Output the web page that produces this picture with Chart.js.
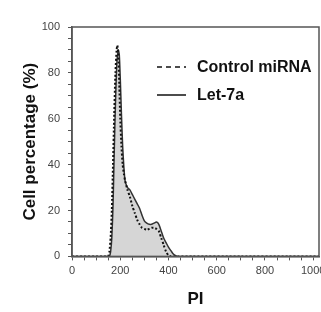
<!DOCTYPE html>
<html>
<head>
<meta charset="utf-8">
<script src="https://cdn.jsdelivr.net/npm/chart.js@4/dist/chart.umd.min.js"></script>
<style>
  html, body { margin: 0; padding: 0; background: #fff; overflow: hidden; }
  #wrap { width: 340px; height: 312px; }
</style>
</head>
<body>
<div id="wrap"><canvas id="piChart" width="340" height="312"></canvas></div>
<script>
// PI channel values (x) and cell percentage for each curve
const piValues = [0, 50, 100, 140, 150, 155, 160, 165, 170, 175, 180, 185, 188, 192, 196, 200, 205, 210, 215, 220, 230, 240, 250, 260, 270, 280, 290, 300, 310, 320, 330, 340, 350, 360, 370, 380, 390, 400, 410, 420, 430, 440, 500, 700, 900, 1024];
const controlValues = [0, 0, 0, 0, 0, 2, 8, 20, 40, 62, 80, 90, 92, 88, 75, 60, 48, 40, 36, 33, 29, 26, 22, 19, 16, 14, 12.5, 12, 11.5, 12, 12.5, 12.5, 12, 11, 8, 5, 2, 0.5, 0, 0, 0, 0, 0, 0, 0, 0];
const let7aValues = [0, 0, 0, 0, 0, 0, 2, 8, 22, 45, 66, 82, 87, 90, 88, 78, 62, 48, 39, 33, 30, 29, 27, 25, 23, 21, 18, 15.5, 14.5, 14, 14, 14.5, 15, 14, 11, 8, 6, 4, 2.5, 1, 0.3, 0, 0, 0, 0, 0];

const legendLabels = ["Control miRNA", "Let-7a"];

// legend inside plot + frame box
const boxPlugin = {
  id: "boxPlugin",
  afterDraw(chart) {
    const ctx = chart.ctx;
    const a = chart.chartArea;
    ctx.save();
    ctx.strokeStyle = "#555";
    ctx.lineWidth = 1.5;
    ctx.strokeRect(a.left, a.top, a.right - a.left, a.bottom - a.top);

    ctx.fillStyle = "#111";
    ctx.font = "bold 16px Arial, 'Liberation Sans', sans-serif";
    ctx.textBaseline = "middle";
    ctx.strokeStyle = "#111";
    ctx.lineWidth = 1.5;
    // dashed
    ctx.setLineDash([5, 4]);
    ctx.beginPath();
    ctx.moveTo(157, 67);
    ctx.lineTo(186, 67);
    ctx.stroke();
    ctx.setLineDash([]);
    ctx.beginPath();
    ctx.moveTo(157, 95);
    ctx.lineTo(186, 95);
    ctx.stroke();
    ctx.fillText(legendLabels[0], 197, 68);
    ctx.fillText(legendLabels[1], 197, 96);
    ctx.restore();
  },
};

const config = {
  type: "scatter",
  data: {
    datasets: [
      {
        label: legendLabels[0],
        data: piValues.map((x, i) => ({ x: x, y: controlValues[i] })),
        showLine: true,
        borderColor: "#111",
        borderWidth: 2,
        borderDash: [2, 2],
        pointRadius: 0,
        tension: 0.2,
        fill: false,
      },
      {
        label: legendLabels[1],
        data: piValues.map((x, i) => ({ x: x, y: let7aValues[i] })),
        showLine: true,
        borderColor: "#333",
        borderWidth: 1.5,
        backgroundColor: "#d6d6d6",
        pointRadius: 0,
        tension: 0.2,
        fill: "origin",
      },
    ],
  },
  options: {
    responsive: false,
    animation: false,
    layout: {
      padding: { top: 27, right: 21, left: 20, bottom: 2 },
    },
    plugins: {
      legend: { display: false },
      tooltip: { enabled: false },
    },
    scales: {
      x: {
        type: "linear",
        min: 0,
        max: 1024,
        border: { color: "#555", width: 1.5 },
        grid: { drawOnChartArea: false, drawTicks: true, tickLength: 4, color: "#555" },
        ticks: {
          stepSize: 50,
          autoSkip: false,
          includeBounds: false,
          maxRotation: 0,
          color: "#444",
          font: { family: "Arial, 'Liberation Sans', sans-serif", size: 11 },
          padding: 4,
          callback: (v) => (v % 200 === 0 ? v : ""),
        },
        title: {
          display: true,
          text: "PI",
          color: "#111",
          font: { family: "Arial, 'Liberation Sans', sans-serif", size: 17, weight: "bold" },
          padding: { top: 8, bottom: 0 },
        },
      },
      y: {
        min: 0,
        max: 100,
        afterFit: (scale) => {
          scale.width = 52;
        },
        border: { color: "#555", width: 1.5 },
        grid: { drawOnChartArea: false, drawTicks: true, tickLength: 4, color: "#555" },
        ticks: {
          stepSize: 5,
          autoSkip: false,
          color: "#444",
          font: { family: "Arial, 'Liberation Sans', sans-serif", size: 11 },
          padding: 8,
          callback: (v) => (v % 20 === 0 ? v : ""),
        },
        title: {
          display: true,
          text: "Cell percentage (%)",
          color: "#111",
          font: { family: "Arial, 'Liberation Sans', sans-serif", size: 17, weight: "bold" },
          padding: { top: 0, bottom: 4 },
        },
      },
    },
  },
  plugins: [boxPlugin],
};

const piChart = new Chart(document.getElementById("piChart"), config);
</script>
</body>
</html>
